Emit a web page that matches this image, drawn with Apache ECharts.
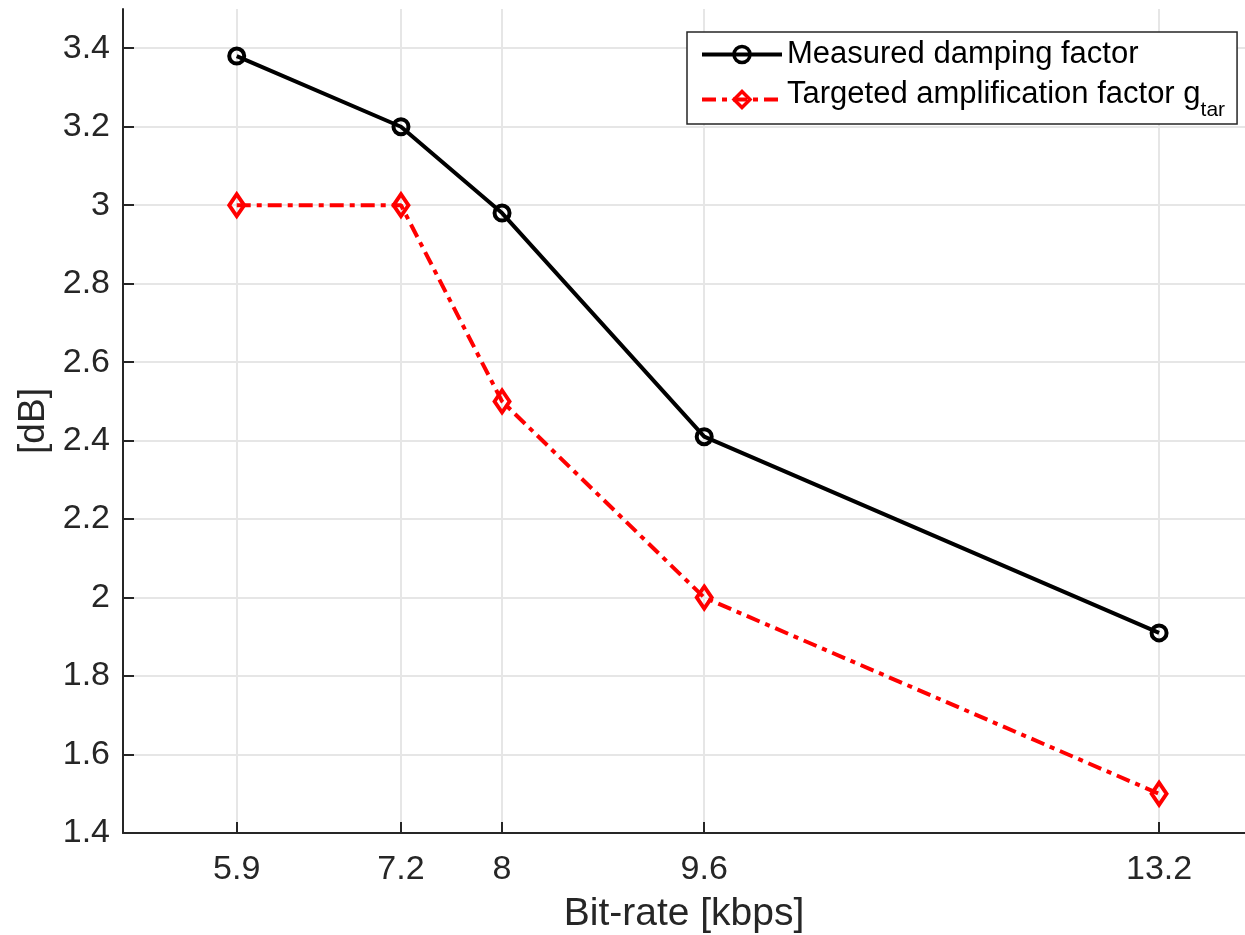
<!DOCTYPE html>
<html>
<head>
<meta charset="utf-8">
<script src="https://cdn.jsdelivr.net/npm/echarts@6/dist/echarts.min.js"></script>
<style>
html, body { margin: 0; padding: 0; background: #fff; }
#chart { width: 1245px; height: 935px; }
</style>
</head>
<body>
<div id="chart"></div>
<script>
// values
const bitRates = [5.9, 7.2, 8, 9.6, 13.2];
const measuredDamping = [3.38, 3.2, 2.98, 2.41, 1.91];
const targetedAmp = [3.0, 3.0, 2.5, 2.0, 1.5];
const yTicks = [1.4, 1.6, 1.8, 2, 2.2, 2.4, 2.6, 2.8, 3, 3.2, 3.4];

const FONT = "'Liberation Sans', Arial, Helvetica, sans-serif";
const AXIS_COLOR = "#262626";
const measuredName = "Measured damping factor";
const targetName = "Targeted amplification factor g_tar";

function pairs(ys) {
  return bitRates.map(function (x, i) { return [x, ys[i]]; });
}

const mychart = echarts.init(document.getElementById("chart"));
mychart.setOption({
  animation: false,
  backgroundColor: "#fff",
  grid: { left: 123, right: 0, top: 9, bottom: 102, outerBoundsMode: "none", containLabel: false },
  legend: {
    orient: "vertical",
    left: 687,
    top: 32,
    padding: [7, 12, 3, 13],
    itemWidth: 80,
    itemHeight: 20,
    itemGap: 9,
    borderColor: AXIS_COLOR,
    borderWidth: 1.5,
    backgroundColor: "#fff",
    lineStyle: { width: 4 },
    itemStyle: { borderWidth: 3.5 },
    data: [measuredName, targetName],
    formatter: function (name) {
      if (name === targetName) {
        return "{n|Targeted amplification factor g}{s|tar}";
      }
      return name;
    },
    textStyle: {
      fontFamily: FONT,
      fontSize: 31,
      color: "#000",
      rich: {
        n: { fontFamily: FONT, fontSize: 31, color: "#000", padding: [0, 0, 10, 0] },
        s: { fontFamily: FONT, fontSize: 21, color: "#000", padding: [22, 0, 0, 0] }
      }
    }
  },
  xAxis: {
    type: "value",
    min: 5,
    max: 13.88,
    name: "Bit-rate [kbps]",
    nameLocation: "middle",
    nameGap: 62,
    nameTextStyle: { fontFamily: FONT, fontSize: 39, color: AXIS_COLOR },
    axisLine: { show: true, lineStyle: { color: AXIS_COLOR, width: 2 } },
    axisTick: {
      show: true,
      inside: true,
      length: 11,
      customValues: bitRates,
      lineStyle: { color: AXIS_COLOR, width: 2 }
    },
    axisLabel: {
      customValues: bitRates,
      margin: 20,
      fontFamily: FONT,
      fontSize: 34,
      color: AXIS_COLOR
    },
    splitLine: { show: true, lineStyle: { color: "#e6e6e6", width: 2 } }
  },
  yAxis: {
    type: "value",
    min: 1.4,
    max: 3.5,
    name: "[dB]",
    nameLocation: "middle",
    nameGap: 70,
    nameTextStyle: { fontFamily: FONT, fontSize: 37, color: AXIS_COLOR },
    axisLine: { show: true, lineStyle: { color: AXIS_COLOR, width: 2 } },
    axisTick: {
      show: true,
      inside: true,
      length: 11,
      customValues: yTicks,
      lineStyle: { color: AXIS_COLOR, width: 2 }
    },
    axisLabel: {
      customValues: yTicks,
      margin: 13,
      fontFamily: FONT,
      fontSize: 34,
      color: AXIS_COLOR
    },
    splitLine: { show: true, lineStyle: { color: "#e6e6e6", width: 2 } }
  },
  series: [
    {
      name: measuredName,
      type: "line",
      data: pairs(measuredDamping),
      symbol: "circle",
      symbolSize: 15,
      lineStyle: { color: "#000", width: 4 },
      itemStyle: { color: "rgba(255,255,255,0)", borderColor: "#000", borderWidth: 4 },
      z: 3
    },
    {
      name: targetName,
      type: "line",
      data: pairs(targetedAmp),
      symbol: "diamond",
      symbolSize: [15, 22],
      lineStyle: { color: "#ff0000", width: 4, type: [14, 6, 5, 6], cap: "butt" },
      itemStyle: { color: "rgba(255,255,255,0)", borderColor: "#ff0000", borderWidth: 4 },
      z: 3
    }
  ]
});
window.addEventListener("resize", function () {
  mychart.resize();
});
</script>
</body>
</html>
